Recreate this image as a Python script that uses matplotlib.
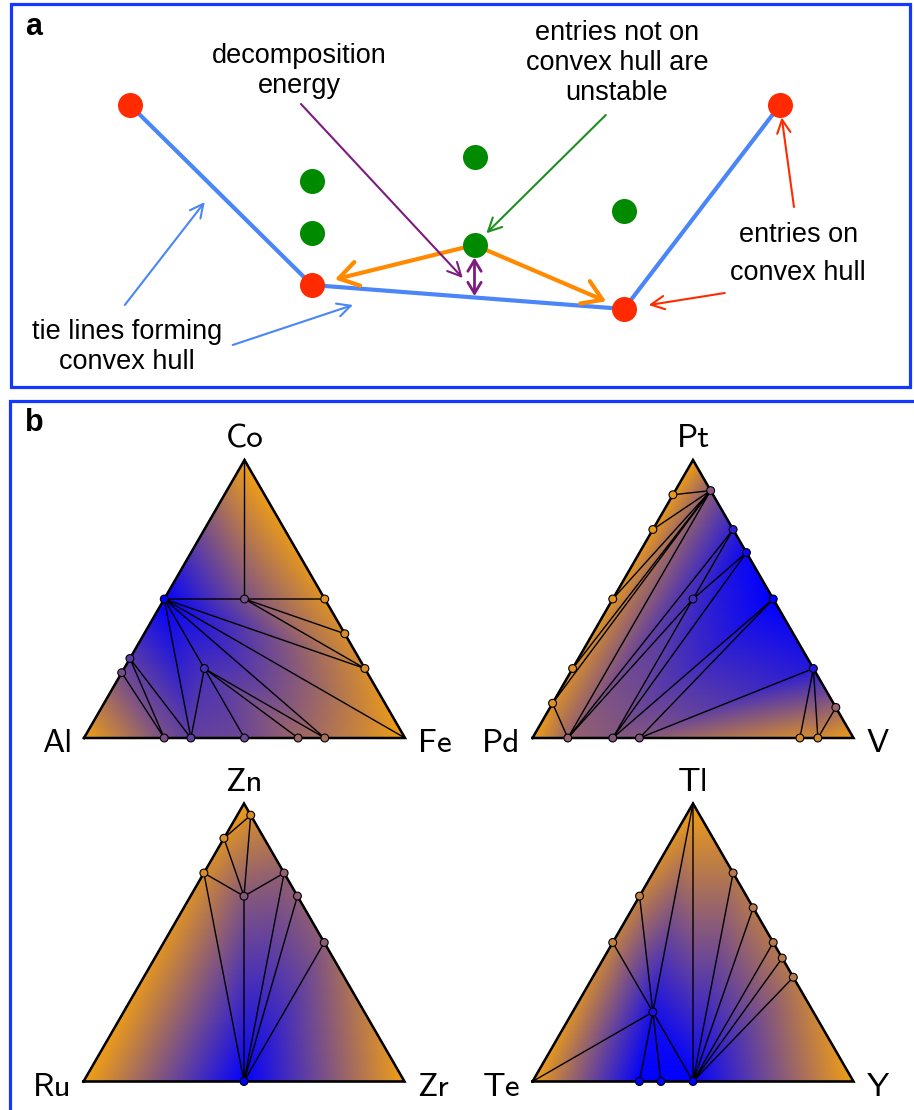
import numpy as np
import matplotlib.pyplot as plt
from matplotlib.colors import LinearSegmentedColormap
from matplotlib.patches import Rectangle
from matplotlib.tri import Triangulation

W, H = 914, 1110
ORANGE = "#F3A012"
FRAME = "#1438FF"
cmap = LinearSegmentedColormap.from_list("hull", [ORANGE, "#0000FF"])

# ---------------- panel a: schematic hull (composition, energy) ----------------
hull_x = [0.0, 0.28, 0.76, 1.0]
hull_e = [0.0, -0.90, -1.02, 0.0]
unstable_x = [0.28, 0.28, 0.53, 0.53, 0.76]
unstable_e = [-0.38, -0.64, -0.26, -0.70, -0.53]

# ---------------- panel b: ternary hulls ----------------
# node order: left, right, top vertex, then compounds
# composition given as (fraction of right element, fraction of top element)
# energy given as normalised depth below the reference (1 = most stable)
cafe_elems = ["Al", "Fe", "Co"]
cafe_right = [0, 1, 0, 0, 0.25, 0.5, 0.625, 0.75, 0, 0, 0.25, 0.25, 0.333, 0.5, 0.667, 0.75]
cafe_top = [0, 0, 1, 0.5, 0.5, 0.5, 0.375, 0.25, 0.286, 0.235, 0.25, 0, 0, 0, 0, 0]
cafe_e = [0, 0, 0, 1.0, 0.5, 0.08, 0.12, 0.12, 0.62, 0.52, 0.7, 0.5, 0.6, 0.55, 0.35, 0.3]
cafe_facets = [(2, 3, 4), (2, 4, 5), (4, 5, 6), (4, 6, 7), (3, 4, 7), (3, 7, 1),
               (3, 1, 15), (3, 15, 10), (10, 15, 14), (10, 14, 13), (10, 13, 12),
               (3, 10, 12), (3, 12, 8), (8, 12, 11), (8, 11, 9), (9, 11, 0)]

ptv_elems = ["Pd", "V", "Pt"]
ptv_right = [0, 1, 0, 0, 0, 0, 0, 0, 0.11, 0.25, 0.333, 0.5, 0.75, 0.89, 0.25,
             0.11, 0.25, 0.333, 0.833, 0.889]
ptv_top = [0, 0, 1, 0.875, 0.75, 0.5, 0.25, 0.125, 0.89, 0.75, 0.667, 0.5, 0.25, 0.11, 0.5,
           0, 0, 0, 0, 0]
ptv_e = [0, 0, 0, 0.05, 0.05, 0.08, 0.1, 0.1, 0.45, 0.8, 0.95, 1.0, 0.85, 0.38, 0.72,
         0.38, 0.45, 0.45, 0.12, 0.14]
ptv_facets = [(2, 3, 8), (3, 4, 8), (4, 5, 8), (5, 6, 8), (6, 7, 8), (7, 15, 8), (7, 0, 15),
              (8, 15, 9), (9, 15, 14), (9, 14, 10), (14, 15, 16), (14, 16, 10),
              (10, 16, 11), (11, 16, 17), (11, 17, 12), (12, 17, 18), (12, 18, 19),
              (12, 19, 13), (13, 19, 1)]

zn_elems = ["Ru", "Zr", "Zn"]
zn_right = [0, 1, 0, 0.042, 0, 0, 0.25, 0.1667, 0.333, 0.5, 0.5]
zn_top = [0, 0, 1, 0.958, 0.875, 0.75, 0.75, 0.6667, 0.667, 0.5, 0]
zn_e = [0, 0, 0, 0.12, 0.1, 0.12, 0.4, 0.45, 0.42, 0.42, 1.0]
zn_facets = [(2, 4, 3), (4, 7, 3), (4, 5, 7), (3, 7, 6), (5, 10, 7), (7, 10, 6),
             (6, 10, 8), (8, 10, 9), (9, 10, 1), (0, 10, 5)]

tl_elems = ["Te", "Y", "Tl"]
tl_right = [0, 1, 0, 0, 0, 0.25, 0.375, 0.5, 0.556, 0.625, 0.25, 0.333, 0.4, 0.5]
tl_top = [0, 0, 1, 0.667, 0.5, 0.75, 0.625, 0.5, 0.444, 0.375, 0.25, 0, 0, 0]
tl_e = [0, 0, 0, 0.2, 0.2, 0.25, 0.25, 0.25, 0.25, 0.25, 0.9, 1.0, 1.0, 1.0]
tl_facets = [(0, 4, 10), (4, 3, 10), (3, 2, 10), (2, 10, 13), (0, 10, 11), (10, 11, 12),
             (10, 12, 13), (2, 13, 5), (5, 13, 6), (6, 13, 7), (7, 13, 8), (8, 13, 9),
             (9, 13, 1)]

plt.rcParams["font.family"] = ["Liberation Sans", "DejaVu Sans"]
fig = plt.figure(figsize=(W / 100, H / 100), dpi=100)

# frames
fig.patches.append(Rectangle((10.5 / W, 1 - 386.5 / H), 899 / W, 382.5 / H, fill=False,
                             ec=FRAME, lw=2.3, transform=fig.transFigure))
fig.patches.append(Rectangle((10 / W, 1 - 1120 / H), 920 / W, (1120 - 400.5) / H, fill=False,
                             ec=FRAME, lw=2.3, transform=fig.transFigure))
fig.text(25 / W, 1 - 35 / H, "a", fontsize=22, fontweight="bold", va="baseline")
fig.text(25 / W, 1 - 431 / H, "b", fontsize=22, fontweight="bold", va="baseline")

# ---- panel a
ax = fig.add_axes([10 / W, 1 - 387 / H, 900 / W, 383 / H])
ax.set_xlim(-120 / 650, 780 / 650)
ax.set_ylim(-282 / 200, 101 / 200)
ax.axis("off")

BL = "#4A86F7"
ax.plot(hull_x, hull_e, color=BL, lw=3, solid_capstyle="round", zorder=2)
ax.plot(hull_x, hull_e, "o", color="#FF2A00", ms=18, mec="none", zorder=4)
ax.plot(unstable_x, unstable_e, "o", color="#008A00", ms=18, mec="none", zorder=4)

ORG = "#FF8A00"
src = (unstable_x[3], unstable_e[3])
ax.annotate("", xy=(hull_x[1], hull_e[1]), xytext=src,
            arrowprops=dict(arrowstyle="->,head_length=0.55,head_width=0.35", color=ORG,
                            lw=3, mutation_scale=25, shrinkA=8, shrinkB=17))
ax.annotate("", xy=(hull_x[2], hull_e[2]), xytext=src,
            arrowprops=dict(arrowstyle="->,head_length=0.55,head_width=0.35", color=ORG,
                            lw=3, mutation_scale=25, shrinkA=8, shrinkB=14))
PUR = "#7B1C7E"
e_hull = np.interp(unstable_x[3], hull_x, hull_e)
ax.annotate("", xy=(unstable_x[3], e_hull), xytext=src,
            arrowprops=dict(arrowstyle="<->,head_length=0.5,head_width=0.3", color=PUR,
                            lw=2, mutation_scale=16, shrinkA=9, shrinkB=-1))

thin = "->,head_length=0.6,head_width=0.3"
ax.annotate("", xy=(0.512, -0.865), xytext=(0.263, 0.005),
            arrowprops=dict(arrowstyle=thin, color=PUR, lw=1.5, mutation_scale=16,
                            shrinkA=0, shrinkB=0))
ax.annotate("", xy=src, xytext=(0.732, -0.05),
            arrowprops=dict(arrowstyle=thin, color="#1E8F1E", lw=1.5, mutation_scale=16,
                            shrinkA=0, shrinkB=12))
ax.annotate("", xy=(hull_x[3], hull_e[3]), xytext=(1.0215, -0.51),
            arrowprops=dict(arrowstyle=thin, color="#FF2A00", lw=1.5, mutation_scale=16,
                            shrinkA=0, shrinkB=9))
ax.annotate("", xy=(hull_x[2], hull_e[2]), xytext=(0.915, -0.94),
            arrowprops=dict(arrowstyle=thin, color="#FF2A00", lw=1.5, mutation_scale=16,
                            shrinkA=0, shrinkB=18))
ax.annotate("", xy=(0.115, -0.485), xytext=(-0.008, -1.0),
            arrowprops=dict(arrowstyle=thin, color=BL, lw=1.5, mutation_scale=16,
                            shrinkA=0, shrinkB=0))
ax.annotate("", xy=(0.343, -1.0), xytext=(0.158, -1.2),
            arrowprops=dict(arrowstyle=thin, color=BL, lw=1.5, mutation_scale=16,
                            shrinkA=0, shrinkB=0))

fs = 19.5
ax.text(0.26, 0.17, "decomposition\nenergy", ha="center", va="center", fontsize=fs,
        linespacing=1.22)
ax.text(0.749, 0.21, "entries not on\nconvex hull are\nunstable", ha="center",
        va="center", fontsize=fs, linespacing=1.22)
ax.text(1.028, -0.745, "entries on\nconvex hull", ha="center", va="center", fontsize=fs,
        linespacing=1.6)
ax.text(-0.0046, -1.21, "tie lines forming\nconvex hull", ha="center", va="center",
        fontsize=fs, linespacing=1.18)


# ---- panel b
def ternary(left_px, base_px, elems, right, top, energy, facets, width=321, pad=8):
    h = np.sqrt(3) / 2
    axt = fig.add_axes([(left_px - pad) / W, 1 - (base_px + pad) / H,
                        (width + 2 * pad) / W, (width * h + 2 * pad) / H])
    axt.set_xlim(-pad / width, 1 + pad / width)
    axt.set_ylim(-pad / width, h + pad / width)
    axt.axis("off")
    right = np.asarray(right, float)
    top = np.asarray(top, float)
    x = right + top / 2
    y = top * h
    tri = Triangulation(x, y, triangles=facets)
    axt.tripcolor(tri, energy, shading="gouraud", cmap=cmap, vmin=0, vmax=1)
    axt.triplot(tri, color="k", lw=1.0)
    axt.plot(x[[0, 1, 2, 0]], y[[0, 1, 2, 0]], color="k", lw=1.8, solid_joinstyle="miter")
    axt.scatter(x[3:], y[3:], c=energy[3:], cmap=cmap, vmin=0, vmax=1, s=32,
                edgecolors="k", linewidths=0.8, zorder=5, clip_on=False)
    lab = dict(fontsize=24, family="cmss10", va="baseline", textcoords="offset pixels")
    axt.annotate(elems[0], (x[0], y[0]), xytext=(-12, -14), ha="right", **lab)
    axt.annotate(elems[1], (x[1], y[1]), xytext=(13, -14), ha="left", **lab)
    axt.annotate(elems[2], (x[2], y[2]), xytext=(0, 13), ha="center", **lab)


ternary(84, 738, cafe_elems, cafe_right, cafe_top, cafe_e, cafe_facets)
ternary(532.5, 738, ptv_elems, ptv_right, ptv_top, ptv_e, ptv_facets)
ternary(83.5, 1081.5, zn_elems, zn_right, zn_top, zn_e, zn_facets)
ternary(532.5, 1081.5, tl_elems, tl_right, tl_top, tl_e, tl_facets)

fig.savefig("out.png", dpi=100)
